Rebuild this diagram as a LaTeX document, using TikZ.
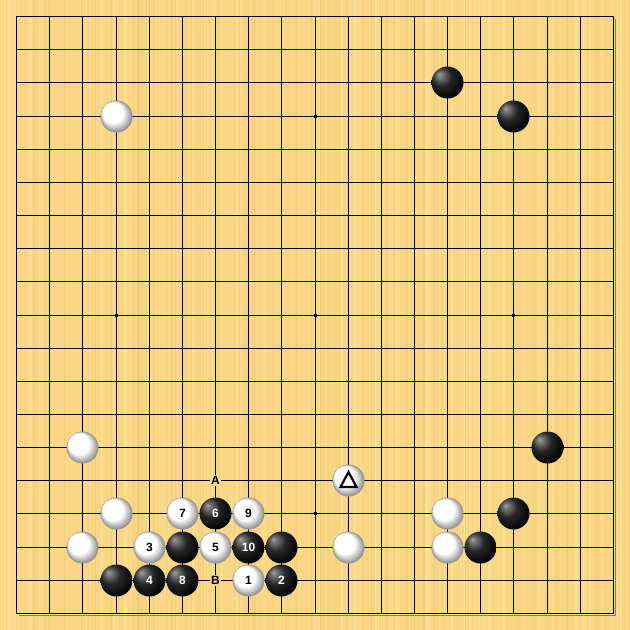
\documentclass[tikz,border=0pt]{standalone}
\usepackage{fontspec}
\setmainfont{Liberation Sans}
\definecolor{woodbase}{RGB}{248,214,132}
\definecolor{woodlight}{RGB}{255,232,165}
\definecolor{wooddark}{RGB}{232,190,105}
\newcommand{\gpos}[1]{int(16.7+(#1)*33.15)+0.5}
\newcommand{\putstone}[5]{%
  \pgfmathsetmacro{\sx}{\gpos{#3}}%
  \pgfmathsetmacro{\sy}{\gpos{#4}}%
  \node[#1] (#2) at (\sx,\sy) {#5};}
\begin{document}
\pgfdeclareradialshading{bball}{\pgfpoint{-13bp}{13bp}}{%
  color(0bp)=(black!38); color(5bp)=(black!55); color(15bp)=(black!85);
  color(27bp)=(black!96); color(50bp)=(black)}
\begin{tikzpicture}[x=1pt,y=-1pt,
  wood/.style={fill=woodbase},
  numfont/.style={font=\bfseries\fontsize{12}{12}\selectfont},
  bstone/.style={circle,minimum size=32pt,inner sep=0pt,shading=bball,text=white,numfont},
  wstone/.style={circle,minimum size=32pt,inner sep=0pt,fill=black!42,text=black,numfont,
    path picture={
      \foreach \i in {1,...,16}{
        \pgfmathsetmacro{\rr}{16-0.62*\i}
        \pgfmathsetmacro{\ss}{(16-\rr)*0.6}
        \pgfmathsetmacro{\cc}{max(0,42-5*\i)}
        \fill[black!\cc] ([xshift=-\ss pt,yshift=\ss pt]path picture bounding box.center) circle[radius=\rr pt];
      }}},
  lbl/.style={inner sep=1.2pt,wood,numfont},
  star/.style={fill=black,minimum size=3.6pt,inner sep=0pt,rectangle}]
\useasboundingbox (0,0) rectangle (630,630);
\path[wood] (0,0) rectangle (630,630);
\pgfmathsetseed{11}
\foreach \i in {1,...,200}{
  \pgfmathsetmacro{\xx}{630*rnd}
  \pgfmathsetmacro{\ww}{0.5+1.5*rnd}
  \pgfmathsetmacro{\oo}{0.15+0.35*rnd}
  \fill[woodlight,opacity=\oo] (\xx,0) rectangle (\xx+\ww,630);
}
\foreach \i in {1,...,120}{
  \pgfmathsetmacro{\xx}{630*rnd}
  \pgfmathsetmacro{\ww}{0.5+1.3*rnd}
  \pgfmathsetmacro{\oo}{0.1+0.2*rnd}
  \fill[wooddark,opacity=\oo] (\xx,0) rectangle (\xx+\ww,630);
}
% grid
\pgfmathsetmacro{\gmin}{\gpos{0}}
\pgfmathsetmacro{\gmax}{\gpos{18}}
\foreach \k in {1,...,17}{
  \pgfmathsetmacro{\p}{\gpos{\k}}
  \draw[line width=1pt] (\p,\gmin) -- (\p,\gmax);
  \draw[line width=1pt] (\gmin,\p) -- (\gmax,\p);
}
\draw[black!50,line width=1pt] (\gmin+2,\gmax+1.5) -- (\gmax+1.5,\gmax+1.5) -- (\gmax+1.5,\gmin+2);
\draw[line width=1.8pt] (\gmin,\gmin) rectangle (\gmax,\gmax);
% star points
\putstone{star}{s1}{9}{3}{}
\putstone{star}{s2}{3}{9}{}
\putstone{star}{s3}{9}{9}{}
\putstone{star}{s4}{15}{9}{}
\putstone{star}{s5}{9}{15}{}
% labels
\putstone{lbl}{lA}{6}{14}{A}
\putstone{lbl}{lB}{6}{17}{B}
% black stones
\putstone{bstone}{b1}{13}{2}{}
\putstone{bstone}{b2}{15}{3}{}
\putstone{bstone}{b3}{16}{13}{}
\putstone{bstone}{b4}{15}{15}{}
\putstone{bstone}{b5}{14}{16}{}
\putstone{bstone}{b6}{5}{16}{}
\putstone{bstone}{b7}{8}{16}{}
\putstone{bstone}{b8}{3}{17}{}
\putstone{bstone}{m6}{6}{15}{6}
\putstone{bstone}{m10}{7}{16}{10}
\putstone{bstone}{m4}{4}{17}{4}
\putstone{bstone}{m8}{5}{17}{8}
\putstone{bstone}{m2}{8}{17}{2}
% white stones
\putstone{wstone}{w1}{3}{3}{}
\putstone{wstone}{w2}{2}{13}{}
\putstone{wstone}{w3}{10}{14}{}
\putstone{wstone}{w4}{3}{15}{}
\putstone{wstone}{w5}{2}{16}{}
\putstone{wstone}{w6}{10}{16}{}
\putstone{wstone}{w7}{13}{15}{}
\putstone{wstone}{w8}{13}{16}{}
\putstone{wstone}{m7}{5}{15}{7}
\putstone{wstone}{m9}{7}{15}{9}
\putstone{wstone}{m3}{4}{16}{3}
\putstone{wstone}{m5}{6}{16}{5}
\putstone{wstone}{m1}{7}{17}{1}
% triangle mark
\draw[line width=2.2pt,line join=miter] ([yshift=8.5pt]w3.center) -- ([xshift=-8pt,yshift=-6.5pt]w3.center) -- ([xshift=8pt,yshift=-6.5pt]w3.center) -- cycle;
\end{tikzpicture}
\end{document}
